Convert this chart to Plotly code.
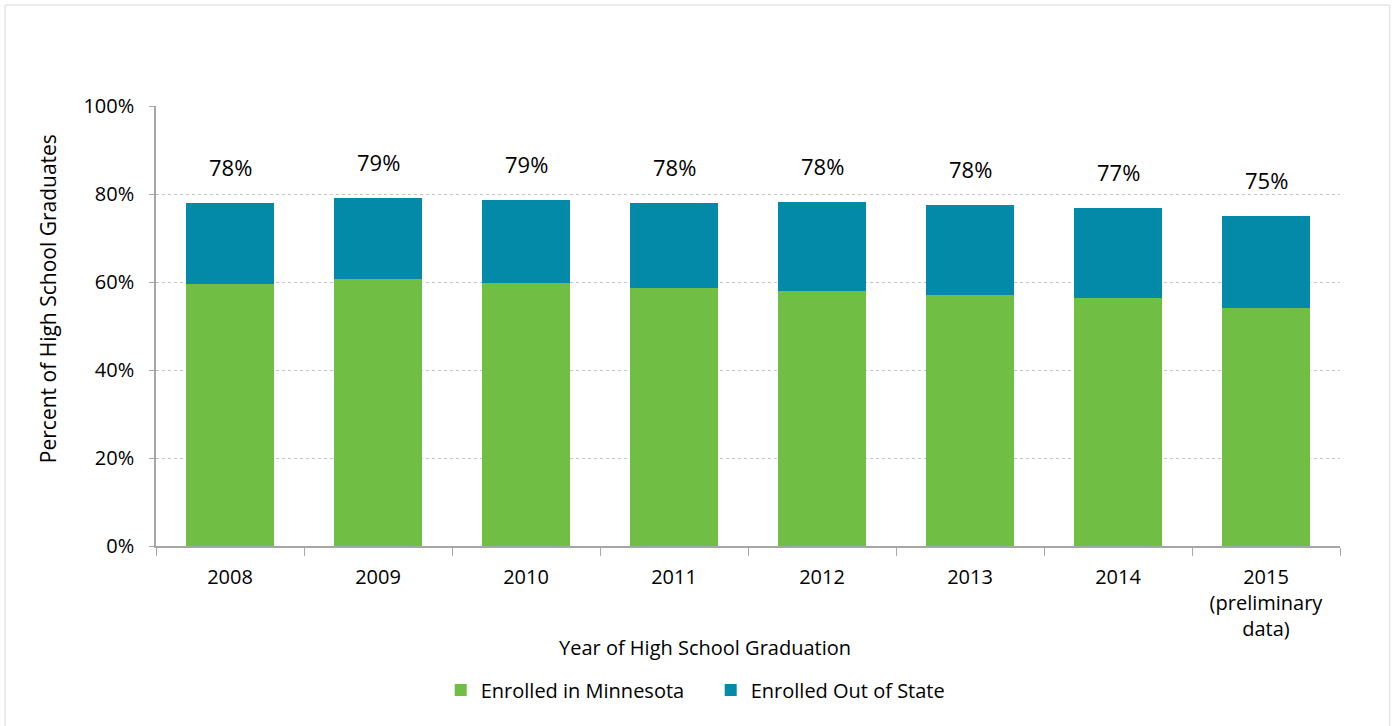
import plotly.graph_objects as go

years = ["2008", "2009", "2010", "2011", "2012", "2013", "2014", "2015<br>(preliminary<br>data)"]
in_state = [59.6, 60.6, 59.8, 58.7, 58.0, 57.1, 56.4, 54.2]
out_state = [18.4, 18.5, 18.8, 19.3, 20.2, 20.4, 20.4, 20.8]
total_labels = ["78%", "79%", "79%", "78%", "78%", "78%", "77%", "75%"]

GREEN = "#70BE44"
BLUE = "#028AA8"
FONT = "Open Sans"

fig = go.Figure()
fig.add_trace(go.Bar(x=years, y=in_state, name="Enrolled in Minnesota",
                     marker=dict(color=GREEN, line=dict(width=0))))
fig.add_trace(go.Bar(x=years, y=out_state, name="Enrolled Out of State",
                     marker=dict(color=BLUE, line=dict(width=0))))

for i, (a, b, lab) in enumerate(zip(in_state, out_state, total_labels)):
    fig.add_annotation(x=i, y=a + b, text=lab, showarrow=False, yshift=36,
                       font=dict(family=FONT, size=22, color="#000000"))

fig.add_annotation(text="Year of High School Graduation", xref="paper", yref="paper",
                   x=0.464, y=-0.2318, xanchor="center", yanchor="middle", showarrow=False,
                   font=dict(family=FONT, size=20, color="#000000"))

fig.add_annotation(text="Percent of High School Graduates", xref="paper", yref="paper",
                   x=-0.0912, y=0.561, xanchor="center", yanchor="middle", showarrow=False,
                   textangle=-90, font=dict(family=FONT, size=21, color="#000000"))

fig.add_shape(type="rect", xref="paper", yref="paper", x0=-0.1275, x1=1.042,
              y0=-0.6, y1=1.2295, line=dict(color="#D9D9D9", width=1), layer="below")

fig.update_layout(
    width=1396, height=726,
    barmode="stack", bargap=0.405,
    plot_bgcolor="white", paper_bgcolor="white",
    margin=dict(l=156, r=56, t=106, b=180, autoexpand=False),
    font=dict(family=FONT, size=20, color="#000000"),
    legend=dict(orientation="h", x=0.4685, xanchor="center", y=-0.327, yanchor="middle",
                font=dict(family=FONT, size=20), itemsizing="constant", traceorder="normal",
                entrywidth=225),
    showlegend=True,
    xaxis=dict(
        type="category",
        tickfont=dict(family=FONT, size=20),
        showline=True, linecolor="#A6A6A6", linewidth=1.5,
        ticks="outside", tickson="boundaries", ticklen=8, tickcolor="#A6A6A6",
        showgrid=False, tickangle=0, automargin=False, ticklabelstandoff=12,
    ),
    yaxis=dict(
        range=[0, 100], dtick=20, ticksuffix="%",
        tickfont=dict(family=FONT, size=20),
        showline=True, linecolor="#A6A6A6", linewidth=1.5,
        ticks="outside", ticklen=5, tickcolor="#A6A6A6",
        showgrid=True, gridcolor="#C4C4C4", griddash="dot", gridwidth=1,
        zeroline=False, automargin=False, ticklabelstandoff=11,
    ),
)

fig.write_html("out.html", post_script="document.body.style.margin='0';",
               config={"displayModeBar": False})
